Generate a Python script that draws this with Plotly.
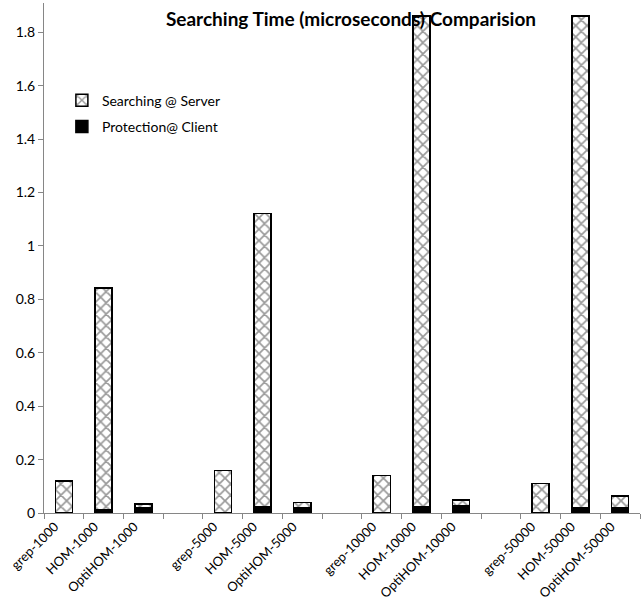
import plotly.graph_objects as go

categories = ["grep-1000", "HOM-1000", "OptiHOM-1000", " ",
              "grep-5000", "HOM-5000", "OptiHOM-5000", "  ",
              "grep-10000", "HOM-10000", "OptiHOM-10000", "   ",
              "grep-50000", "HOM-50000", "OptiHOM-50000"]
searching = [0.12, 0.83, 0.014, None,
             0.16, 1.10, 0.018, None,
             0.14, 1.84, 0.023, None,
             0.11, 1.84, 0.043]
protection = [None, 0.013, 0.020, None,
              None, 0.022, 0.021, None,
              None, 0.022, 0.026, None,
              None, 0.021, 0.021]
y_ticks = [0, 0.2, 0.4, 0.6, 0.8, 1, 1.2, 1.4, 1.6, 1.8]
y_tick_text = ["0", "0.2", "0.4", "0.6", "0.8", "1", "1.2", "1.4", "1.6", "1.8"]

FONT = "Lato, Liberation Sans, sans-serif"

fig = go.Figure()
fig.add_trace(go.Bar(
    x=categories, y=protection, name="Protection@ Client",
    legendgroup="p", legendrank=2,
    marker=dict(color="black", line=dict(color="black", width=1.5)),
))
fig.add_trace(go.Bar(
    x=categories, y=searching, name="Searching @ Server",
    legendgroup="s", legendrank=1,
    marker=dict(color="white", line=dict(color="black", width=1.5),
                pattern=dict(shape="x", fgcolor="#333333", bgcolor="white",
                             size=8, solidity=0.38)),
))

fig.update_layout(
    width=644, height=600,
    barmode="stack", bargap=0.57,
    plot_bgcolor="white", paper_bgcolor="white",
    margin=dict(l=44, r=4, t=3, b=87),
    font=dict(family=FONT, size=13, color="black"),
    title=dict(text="<b>Searching Time (microseconds) Comparision</b>",
               x=0.545, xanchor="center", y=0.967, yanchor="middle",
               yref="container",
               font=dict(family=FONT, size=19, color="black")),
    legend=dict(x=0.03, y=0.84, xanchor="left", yanchor="top",
                bgcolor="rgba(0,0,0,0)",
                font=dict(size=14), itemwidth=30, tracegroupgap=5),
    showlegend=True,
)
fig.update_xaxes(
    type="category", categoryorder="array", categoryarray=categories,
    showline=True, linecolor="#868686", linewidth=1,
    ticks="outside", tickson="boundaries", ticklen=5, tickcolor="#868686",
    tickangle=-45, showgrid=False, zeroline=False, automargin=False,
    tickfont=dict(size=13), ticklabelshift=-9,
)
fig.update_yaxes(
    range=[0, 1.91], tickvals=y_ticks, ticktext=y_tick_text,
    showline=True, linecolor="#868686", linewidth=1,
    ticks="outside", ticklen=5, tickcolor="#868686",
    showgrid=False, zeroline=False, automargin=False,
    tickfont=dict(size=14),
)

fig.write_html("out.html", config={"displayModeBar": False},
               post_script="document.body.style.margin='0';"
                           "document.body.style.padding='0';")
